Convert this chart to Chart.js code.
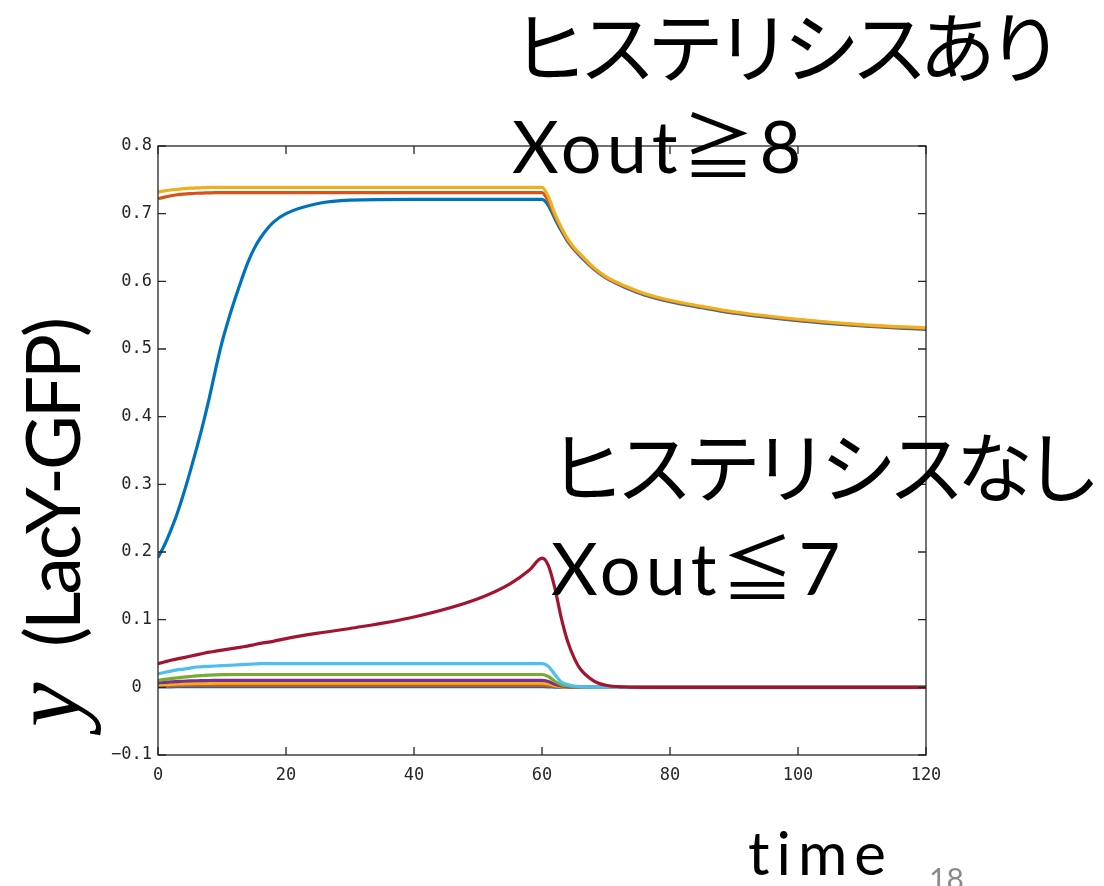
<!DOCTYPE html>
<html>
<head>
<meta charset="utf-8">
<script src="https://cdn.jsdelivr.net/npm/chart.js@4.4.0/dist/chart.umd.min.js"></script>
<style>
  html, body { margin: 0; padding: 0; background: #ffffff; }
  canvas { display: block; }
</style>
</head>
<body>
<canvas id="c" width="1104" height="886"></canvas>
<script>
// Simulation time points shared by every trace
const time = [0, 1, 2, 3, 4, 5, 6, 7, 8, 9, 10, 11, 12, 13, 14, 15, 16, 18, 20, 25, 30, 40, 50, 55, 58, 60,
              61, 62, 63, 64, 65, 66, 68, 70, 73, 76, 80, 85, 90, 100, 110, 120];

// y (LacY-GFP) for each external inducer level Xout = 1 … 10
const xout1 = [0.0005, 0.0007, 0.0008, 0.0009, 0.0010, 0.0010, 0.0010, 0.0010, 0.0010, 0.0010, 0.0010, 0.0010, 0.0010,
               0.0010, 0.0010, 0.0010, 0.0010, 0.0010, 0.0010, 0.0010, 0.0010, 0.0010, 0.0010, 0.0010, 0.0010, 0.0010,
               0.0008, 0.0004, 0.0002, 0.0001, 0, 0, 0, 0, 0, 0, 0, 0, 0, 0, 0, 0];
const xout2 = [0.0015, 0.0019, 0.0022, 0.0025, 0.0027, 0.0028, 0.0029, 0.0030, 0.0030, 0.0030, 0.0030, 0.0030, 0.0030,
               0.0030, 0.0030, 0.0030, 0.0030, 0.0030, 0.0030, 0.0030, 0.0030, 0.0030, 0.0030, 0.0030, 0.0030, 0.0030,
               0.0025, 0.0012, 0.0005, 0.0002, 0.0001, 0, 0, 0, 0, 0, 0, 0, 0, 0, 0, 0];
const xout3 = [0.0030, 0.0038, 0.0045, 0.0049, 0.0052, 0.0055, 0.0057, 0.0058, 0.0059, 0.0060, 0.0060, 0.0060, 0.0060,
               0.0060, 0.0060, 0.0060, 0.0060, 0.0060, 0.0060, 0.0060, 0.0060, 0.0060, 0.0060, 0.0060, 0.0060, 0.0060,
               0.0050, 0.0025, 0.0010, 0.0005, 0.0002, 0.0001, 0, 0, 0, 0, 0, 0, 0, 0, 0, 0];
const xout4 = [0.0065, 0.0073, 0.0080, 0.0085, 0.0090, 0.0094, 0.0097, 0.0099, 0.0101, 0.0102, 0.0103, 0.0104, 0.0104,
               0.0104, 0.0104, 0.0104, 0.0104, 0.0104, 0.0104, 0.0104, 0.0104, 0.0104, 0.0104, 0.0104, 0.0104, 0.0104,
               0.0085, 0.0045, 0.0020, 0.0010, 0.0005, 0.0002, 0, 0, 0, 0, 0, 0, 0, 0, 0, 0];
const xout5 = [0.0100, 0.0117, 0.0130, 0.0140, 0.0150, 0.0160, 0.0170, 0.0175, 0.0180, 0.0184, 0.0187, 0.0189, 0.0190,
               0.0190, 0.0190, 0.0190, 0.0190, 0.0190, 0.0190, 0.0190, 0.0190, 0.0190, 0.0190, 0.0190, 0.0190, 0.0190,
               0.0160, 0.0090, 0.0040, 0.0020, 0.0010, 0.0005, 0.0001, 0, 0, 0, 0, 0, 0, 0, 0, 0];
const xout6 = [0.0200, 0.0220, 0.0240, 0.0257, 0.0270, 0.0285, 0.0300, 0.0305, 0.0310, 0.0315, 0.0320, 0.0325, 0.0330,
               0.0335, 0.0340, 0.0345, 0.0350, 0.0350, 0.0350, 0.0350, 0.0350, 0.0350, 0.0350, 0.0350, 0.0350, 0.0350,
               0.031, 0.019, 0.008, 0.004, 0.002, 0.001, 0.0003, 0.0001, 0, 0, 0, 0, 0, 0, 0, 0];
const xout7 = [0.0350, 0.0375, 0.0400, 0.0420, 0.0440, 0.0460, 0.0480, 0.0500, 0.0520, 0.0535, 0.0550, 0.0565, 0.0580,
               0.0595, 0.0610, 0.0630, 0.0650, 0.0680, 0.0720, 0.0800, 0.0870, 0.1040, 0.1310, 0.1530, 0.1730, 0.1910,
               0.180, 0.147, 0.103, 0.068, 0.044, 0.027, 0.010, 0.003, 0.0005, 0, 0, 0, 0, 0, 0, 0];
const xout8 = [0.192, 0.210, 0.232, 0.257, 0.286, 0.318, 0.352, 0.388, 0.427, 0.470, 0.510, 0.543, 0.573,
               0.601, 0.627, 0.648, 0.664, 0.687, 0.700, 0.715, 0.720, 0.721, 0.721, 0.721, 0.721, 0.721,
               0.712, 0.693, 0.675, 0.659, 0.647, 0.637, 0.619, 0.605, 0.591, 0.580, 0.570, 0.561, 0.553, 0.542, 0.534, 0.529];
const xout9 = [0.7220, 0.7245, 0.7265, 0.7280, 0.7290, 0.7297, 0.7302, 0.7305, 0.7308, 0.7310, 0.7310, 0.7310, 0.7310,
               0.7310, 0.7310, 0.7310, 0.7310, 0.7310, 0.7310, 0.7310, 0.7310, 0.7310, 0.7310, 0.7310, 0.7310, 0.7310,
               0.718, 0.697, 0.678, 0.661, 0.648, 0.639, 0.620, 0.606, 0.592, 0.581, 0.571, 0.562, 0.554, 0.543, 0.535, 0.530];
const xout10 = [0.7320, 0.7337, 0.7350, 0.7360, 0.7370, 0.7377, 0.7380, 0.7385, 0.7388, 0.7390, 0.7390, 0.7390, 0.7390,
                0.7390, 0.7390, 0.7390, 0.7390, 0.7390, 0.7390, 0.7390, 0.7390, 0.7390, 0.7390, 0.7390, 0.7390, 0.7390,
                0.725, 0.700, 0.680, 0.663, 0.650, 0.640, 0.621, 0.607, 0.593, 0.582, 0.572, 0.563, 0.555, 0.544, 0.536, 0.531];

const seriesNames = ['Xout=1', 'Xout=2', 'Xout=3', 'Xout=4', 'Xout=5', 'Xout=6', 'Xout=7', 'Xout=8', 'Xout=9', 'Xout=10'];
const seriesValues = [xout1, xout2, xout3, xout4, xout5, xout6, xout7, xout8, xout9, xout10];

// Axis ticks
const xTickValues = [0, 20, 40, 60, 80, 100, 120];
const xTickLabels = ['0', '20', '40', '60', '80', '100', '120'];
const yTickValues = [-0.1, 0, 0.1, 0.2, 0.3, 0.4, 0.5, 0.6, 0.7, 0.8];
const yTickLabels = ['\u22120.1', '0 ', '0.1', '0.2', '0.3', '0.4', '0.5', '0.6', '0.7', '0.8'];

// Line colours (default colour order, repeating after seven)
const lineColors = ['#0072BD', '#D95319', '#EDB120', '#7E2F8E', '#77AC30', '#4DBEEE', '#A2142F',
                    '#0072BD', '#D95319', '#EDB120'];

// Text placed over the figure
const notes = [
  { text: 'ヒステリシスあり', x: 511, y: 77,  font: "77px 'Noto Sans CJK JP'", spacing: '-9px', color: '#000' },
  { text: 'Xout≧8',          x: 512, y: 173, font: "72px Lato, 'Noto Sans CJK JP'", spacing: '5px', color: '#000' },
  { text: 'ヒステリシスなし', x: 548, y: 497, font: "77px 'Noto Sans CJK JP'", spacing: '-9px', color: '#000' },
  { text: 'Xout≦7',          x: 551, y: 595, font: "72px Lato, 'Noto Sans CJK JP'", spacing: '5px', color: '#000' },
  { text: 'time',            x: 748, y: 875, font: "60px Lato", spacing: '7px', color: '#000' },
  { text: '18',              x: 929, y: 890, font: "30px Lato", spacing: '0px', color: '#8a8a8a' }
];

const AXIS_COLOR = '#262626';
const TICK_FONT = { family: "'DejaVu Sans Mono', monospace", size: 17 };

// Box around the plot area with inward tick marks on all four sides
const boxFrame = {
  id: 'boxFrame',
  afterDatasetsDraw(chart) {
    const { ctx, chartArea: a, scales } = chart;
    const len = 8;
    ctx.save();
    ctx.strokeStyle = AXIS_COLOR;
    ctx.lineWidth = 1.3;
    ctx.strokeRect(a.left, a.top, a.right - a.left, a.bottom - a.top);
    ctx.beginPath();
    scales.x.ticks.forEach(t => {
      const p = scales.x.getPixelForValue(t.value);
      ctx.moveTo(p, a.bottom); ctx.lineTo(p, a.bottom - len);
      ctx.moveTo(p, a.top);    ctx.lineTo(p, a.top + len);
    });
    scales.y.ticks.forEach(t => {
      const p = scales.y.getPixelForValue(t.value);
      ctx.moveTo(a.left, p);  ctx.lineTo(a.left + len, p);
      ctx.moveTo(a.right, p); ctx.lineTo(a.right - len, p);
    });
    ctx.stroke();
    ctx.restore();
  }
};

// Annotations and the rotated y-axis title
const overlayText = {
  id: 'overlayText',
  afterDraw(chart) {
    const ctx = chart.ctx;
    notes.forEach(n => {
      ctx.save();
      ctx.font = n.font;
      ctx.fillStyle = n.color;
      ctx.letterSpacing = n.spacing;
      ctx.textAlign = 'left';
      ctx.textBaseline = 'alphabetic';
      ctx.fillText(n.text, n.x, n.y);
      ctx.restore();
    });

    ctx.save();
    ctx.translate(80, 727);
    ctx.rotate(-Math.PI / 2);
    ctx.fillStyle = '#000';
    ctx.textAlign = 'left';
    ctx.textBaseline = 'alphabetic';
    ctx.font = "italic 100px 'Liberation Serif'";
    ctx.fillText('y', 0, 0);
    ctx.font = "75px Lato";
    ctx.letterSpacing = '-3px';
    ctx.fillText('(LacY-GFP)', 80, 0);
    ctx.restore();
  }
};

new Chart(document.getElementById('c'), {
  type: 'line',
  data: {
    datasets: seriesValues.map((vals, i) => ({
      label: seriesNames[i],
      data: time.map((t, k) => ({ x: t, y: vals[k] })),
      borderColor: lineColors[i],
      backgroundColor: lineColors[i],
      borderWidth: 3.2,
      pointRadius: 0,
      fill: false,
      cubicInterpolationMode: 'monotone',
      order: seriesValues.length - i
    }))
  },
  options: {
    responsive: false,
    animation: false,
    devicePixelRatio: 1,
    layout: { padding: { left: 0, right: 178, top: 146, bottom: 0 } },
    plugins: { legend: { display: false }, tooltip: { enabled: false } },
    scales: {
      x: {
        type: 'linear',
        min: 0, max: 120,
        grid: { display: false, drawTicks: false },
        border: { display: false },
        afterBuildTicks: s => { s.ticks = xTickValues.map(v => ({ value: v })); },
        afterFit: s => { s.height = 131; },
        ticks: {
          autoSkip: false, maxRotation: 0, padding: 10,
          font: TICK_FONT, color: AXIS_COLOR,
          callback: (v, i) => xTickLabels[i]
        }
      },
      y: {
        type: 'linear',
        min: -0.1, max: 0.8,
        grid: { display: false, drawTicks: false },
        border: { display: false },
        afterBuildTicks: s => { s.ticks = yTickValues.map(v => ({ value: v })); },
        afterFit: s => { s.width = 158; },
        ticks: {
          autoSkip: false, padding: 6,
          font: TICK_FONT, color: AXIS_COLOR,
          callback: (v, i) => yTickLabels[i]
        }
      }
    }
  },
  plugins: [boxFrame, overlayText]
});
</script>
</body>
</html>
